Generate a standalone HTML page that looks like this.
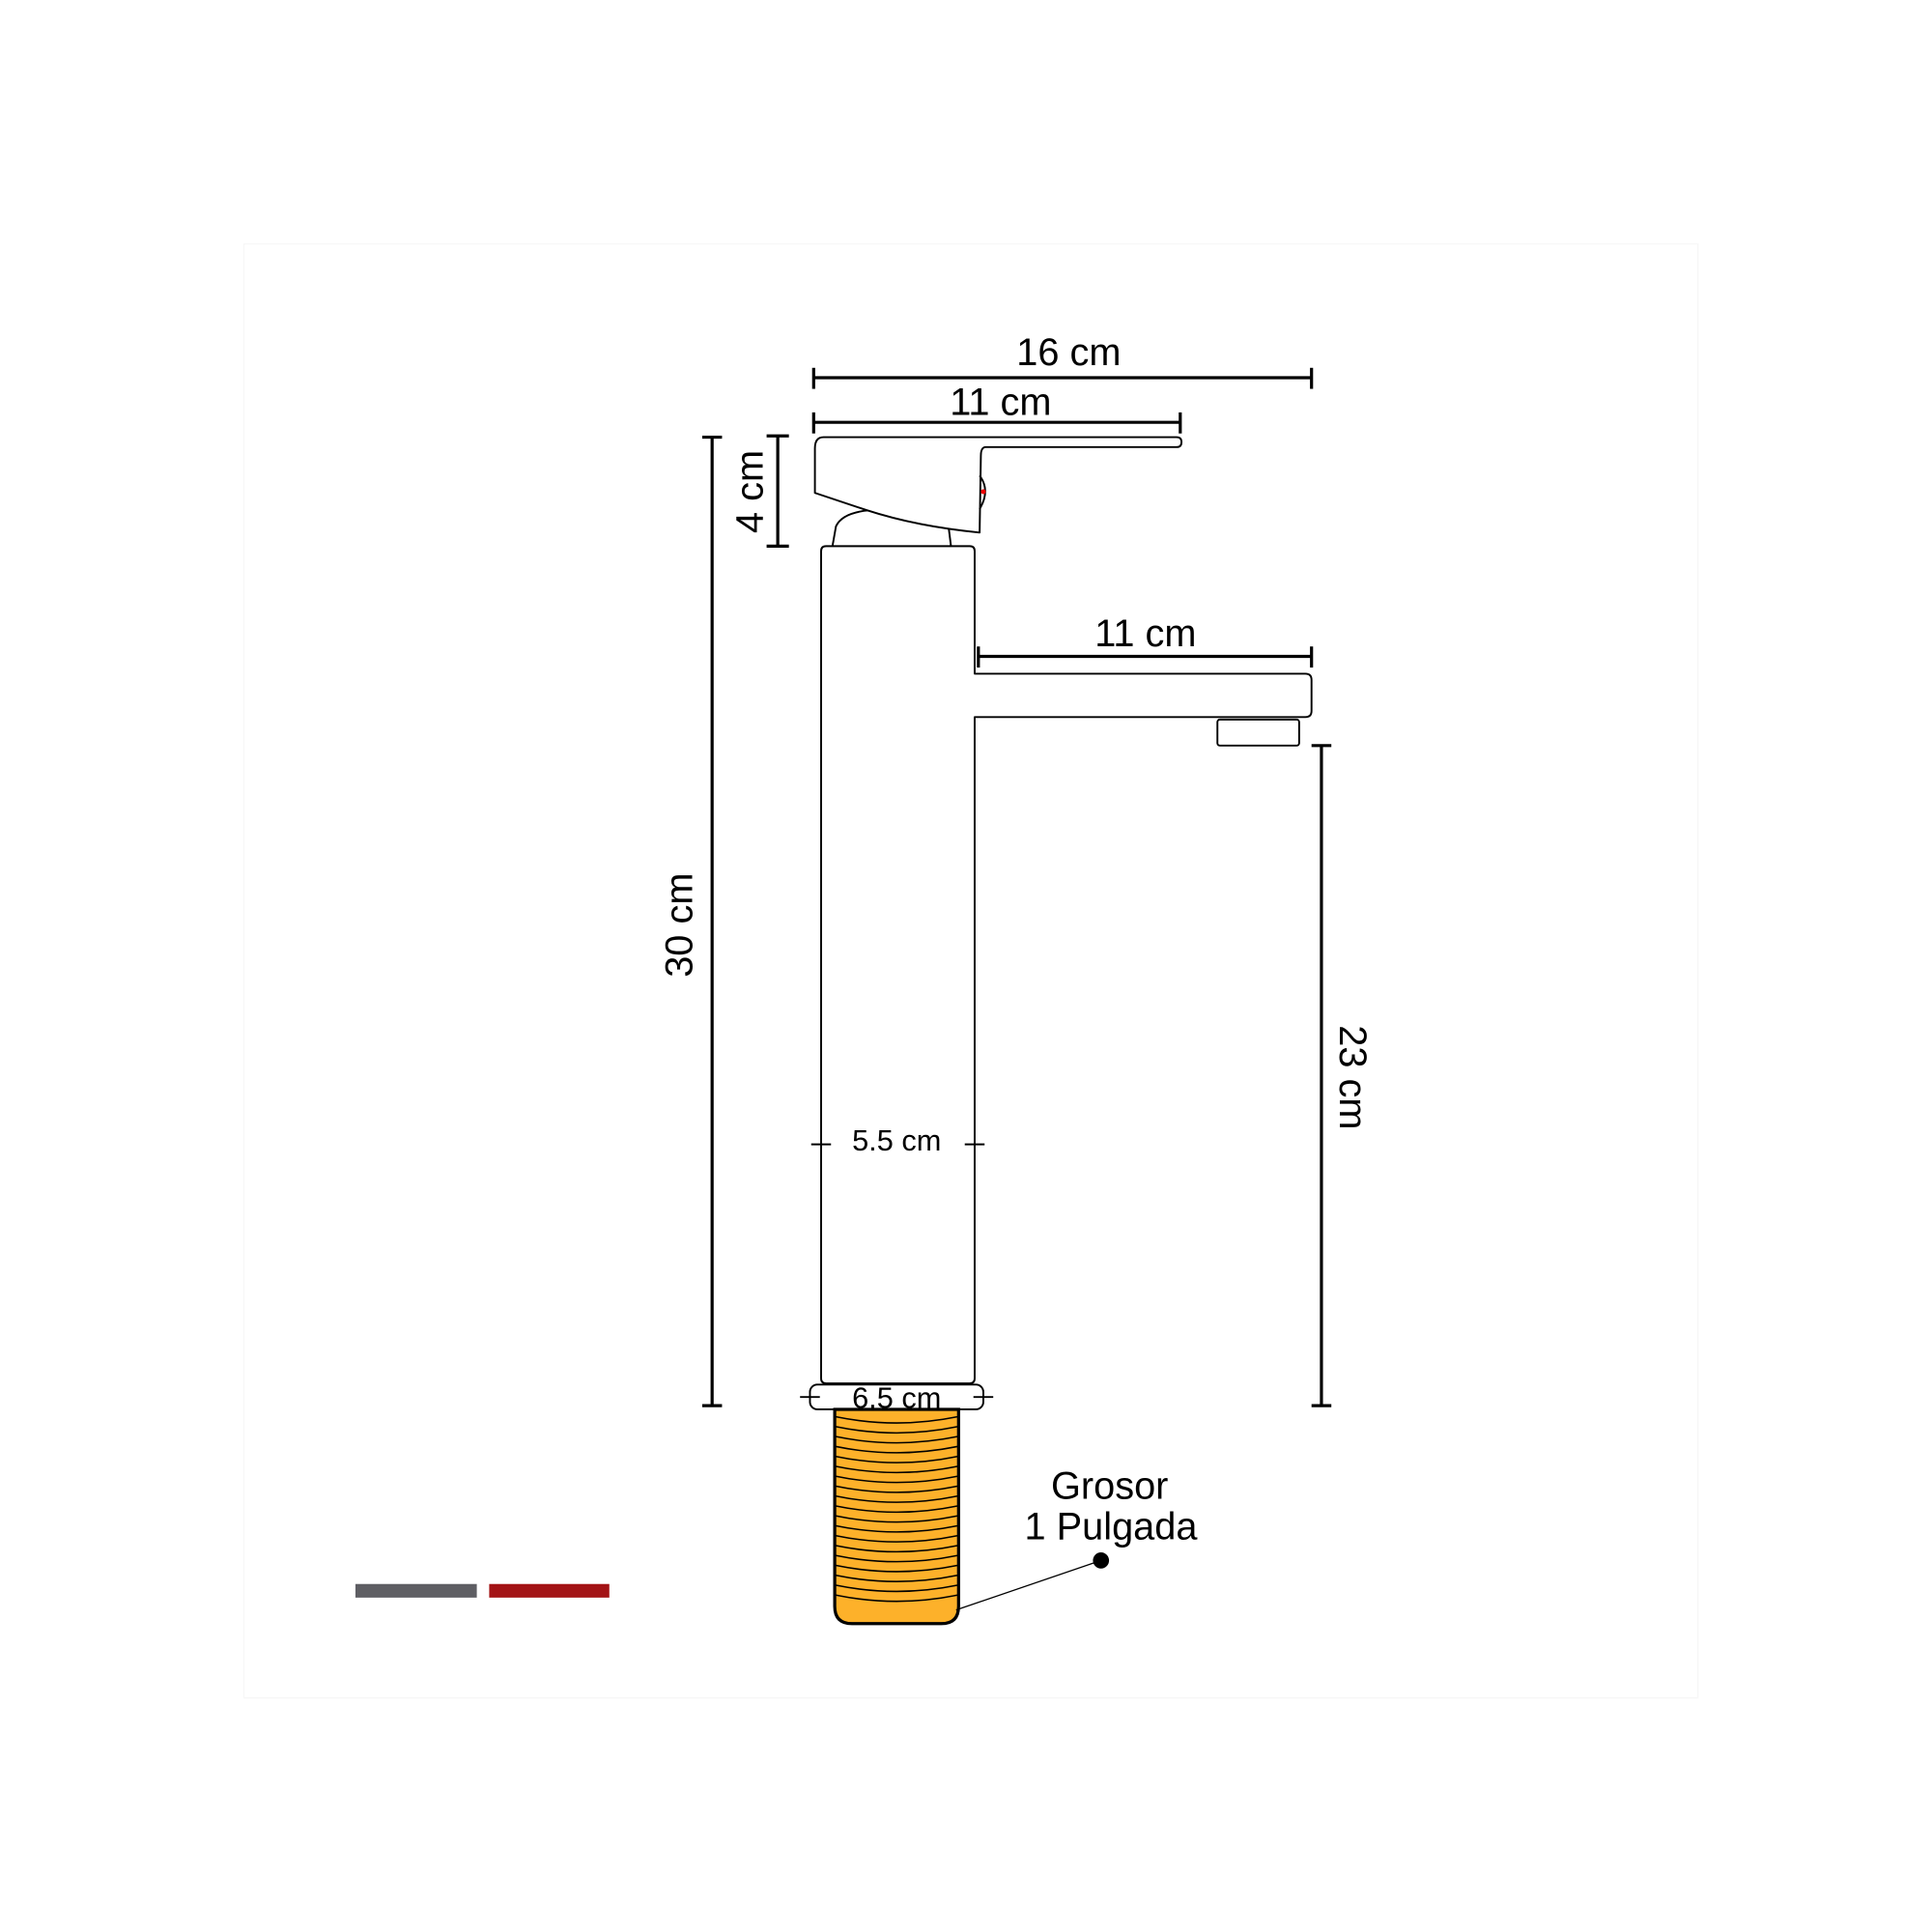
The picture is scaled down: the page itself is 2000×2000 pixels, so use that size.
<!DOCTYPE html>
<html><head><meta charset="utf-8"><style>
html,body{margin:0;padding:0;background:#fff;}
svg{display:block;}
text{font-family:"Liberation Sans",sans-serif;fill:#000;}
</style></head><body>
<svg width="2000" height="2000" viewBox="0 0 1560 1560" xmlns="http://www.w3.org/2000/svg">
<rect x="197" y="197" width="1174" height="1174" fill="none" stroke="#f7f7f7" stroke-width="1"/>
<g stroke="#000" stroke-width="2.5" fill="none">
<!-- 16cm -->
<line x1="657" y1="305" x2="1059" y2="305"/><line x1="657" y1="297" x2="657" y2="314"/><line x1="1059" y1="297" x2="1059" y2="314"/>
<!-- 11cm top -->
<line x1="657" y1="341" x2="953" y2="341"/><line x1="657" y1="333" x2="657" y2="350"/><line x1="953" y1="333" x2="953" y2="350"/>
<!-- 30cm -->
<line x1="575" y1="353" x2="575" y2="1135"/><line x1="567" y1="353" x2="583" y2="353"/><line x1="567" y1="1135" x2="583" y2="1135"/>
<!-- 4cm -->
<line x1="628" y1="352" x2="628" y2="441"/><line x1="619" y1="352" x2="637" y2="352"/><line x1="619" y1="441" x2="637" y2="441"/>
<!-- 11cm spout -->
<line x1="790" y1="530" x2="1059" y2="530"/><line x1="790" y1="522" x2="790" y2="539"/><line x1="1059" y1="522" x2="1059" y2="539"/>
<!-- 23cm -->
<line x1="1067" y1="602" x2="1067" y2="1135"/><line x1="1059" y1="602" x2="1075" y2="602"/><line x1="1059" y1="1135" x2="1075" y2="1135"/>
</g>
<g stroke="#000" stroke-width="1.5" fill="#fff" stroke-linejoin="round">
<!-- cartridge -->
<path d="M672,442 L675,425 Q680,414 702,412 L766,426 L768,442"/>
<!-- body with spout -->
<path d="M667,441 L783,441 Q787,441 787,445 L787,544 L1054,544 Q1059,544 1059,549 L1059,574 Q1059,579 1054,579 L787,579 L787,1113 Q787,1117 783,1117 L667,1117 Q663,1117 663,1113 L663,445 Q663,441 667,441 Z"/>
<!-- aerator -->
<rect x="983" y="581" width="66" height="21" rx="2"/>
<!-- handle -->
<path d="M665,353 L950,353 Q954,353 954,357 Q954,361 950,361 L796,361 Q792,361 792,368 L791,430 Q740,425 700,412 L658,398 L658,362 Q658,353 665,353 Z"/>
<path d="M791,384 Q800,396 791,411" fill="none"/>
<!-- base ring -->
<rect x="654" y="1118" width="140" height="20" rx="6"/>
</g>
<circle cx="794" cy="397" r="2" fill="#e00"/>
<g stroke="#000" stroke-width="1.5">
<line x1="655" y1="924" x2="671" y2="924"/><line x1="779" y1="924" x2="795" y2="924"/>
<line x1="646" y1="1128" x2="662" y2="1128"/><line x1="786" y1="1128" x2="802" y2="1128"/>
</g>
<!-- thread -->
<path d="M674,1138 L774,1138 L774,1297 Q774,1311 760,1311 L688,1311 Q674,1311 674,1297 Z" fill="#FDB12A" stroke="#000" stroke-width="2.5"/>
<g stroke="#000" stroke-width="1.2" fill="none">
<path d="M675,1144 Q724,1154 773,1144"/><path d="M675,1152 Q724,1162 773,1152"/><path d="M675,1160 Q724,1170 773,1160"/><path d="M675,1168 Q724,1178 773,1168"/><path d="M675,1176 Q724,1186 773,1176"/><path d="M675,1184 Q724,1194 773,1184"/><path d="M675,1192 Q724,1202 773,1192"/><path d="M675,1200 Q724,1210 773,1200"/><path d="M675,1208 Q724,1218 773,1208"/><path d="M675,1216 Q724,1226 773,1216"/><path d="M675,1224 Q724,1234 773,1224"/><path d="M675,1232 Q724,1242 773,1232"/><path d="M675,1240 Q724,1250 773,1240"/><path d="M675,1248 Q724,1258 773,1248"/><path d="M675,1256 Q724,1266 773,1256"/><path d="M675,1264 Q724,1274 773,1264"/><path d="M675,1272 Q724,1282 773,1272"/><path d="M675,1280 Q724,1290 773,1280"/><path d="M675,1288 Q724,1298 773,1288"/>
</g>
<line x1="889" y1="1260" x2="772" y2="1300" stroke="#000" stroke-width="1"/>
<circle cx="889" cy="1260" r="6.5" fill="#000"/>
<!-- color bars -->
<rect x="287" y="1279" width="98" height="11" fill="#5e5e63"/>
<rect x="395" y="1279" width="97" height="11" fill="#a31315"/>
<!-- labels -->
<g font-size="31" text-anchor="middle">
<text x="863" y="295">16 cm</text>
<text x="808" y="335">11 cm</text>
<text x="925" y="522">11 cm</text>
<text x="896" y="1210">Grosor</text>
<text x="897" y="1243">1 Pulgada</text>
<text transform="translate(559,747) rotate(-90)">30 cm</text>
<text transform="translate(616,397) rotate(-90)">4 cm</text>
<text transform="translate(1082,870) rotate(90)">23 cm</text>
</g>
<g font-size="24" text-anchor="middle">
<text x="724" y="929">5.5 cm</text>
<text x="724" y="1137">6.5 cm</text>
</g>
</svg>
</body></html>
